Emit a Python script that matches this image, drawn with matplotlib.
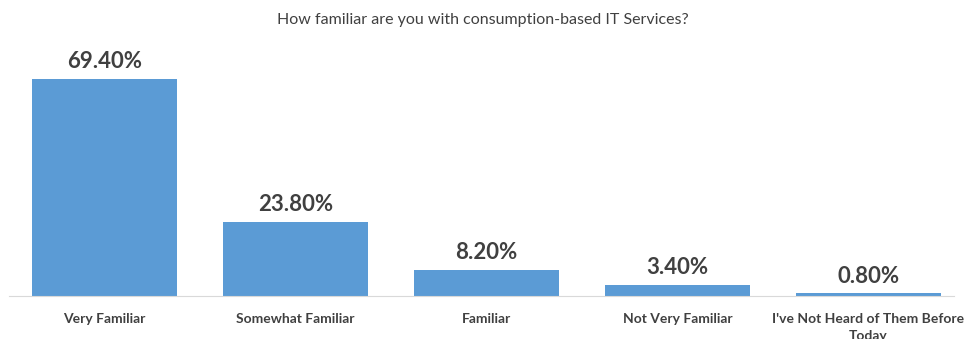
import matplotlib
matplotlib.use("Agg")
import matplotlib.pyplot as plt

categories = ["Very Familiar", "Somewhat Familiar", "Familiar", "Not Very Familiar",
              "I've Not Heard of Them Before\nToday"]
values = [69.4, 23.8, 8.2, 3.4, 0.8]
value_labels = ["69.40%", "23.80%", "8.20%", "3.40%", "0.80%"]
title = "How familiar are you with consumption-based IT Services?"

plt.rcParams["font.family"] = ["Lato", "DejaVu Sans"]
text_col = "#404040"

fig = plt.figure(figsize=(9.65, 3.39), dpi=100)
ax = fig.add_axes([9 / 965, 43 / 339, 955 / 965, 250 / 339])

x = range(len(categories))
ax.bar(x, values, width=0.76, color="#5B9BD5", zorder=2)
for xi, v, lab in zip(x, values, value_labels):
    ax.annotate(lab, (xi, v), xytext=(0, 5), textcoords="offset points",
                ha="center", va="bottom", fontsize=16, fontweight="bold",
                color=text_col)

ax.set_xlim(-0.5, len(categories) - 0.5)
ax.set_ylim(0, 250 / 3.127)
ax.set_xticks(list(x))
ax.set_xticklabels(categories, fontsize=10, fontweight="bold", color=text_col,
                   linespacing=1.5)
ax.tick_params(axis="x", length=0, pad=12)
ax.set_yticks([])
for s in ["top", "right", "left"]:
    ax.spines[s].set_visible(False)
ax.spines["bottom"].set_color("#D9D9D9")
ax.spines["bottom"].set_bounds(-0.5, 4.45)

fig.text(0.5, 1 - 20 / 339, title, ha="center", va="center", fontsize=11.5,
         color=text_col)

fig.savefig("out.png", dpi=100)
